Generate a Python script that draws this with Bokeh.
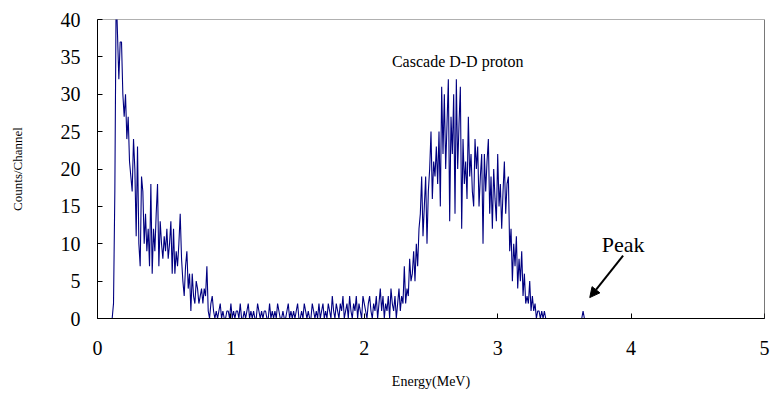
import numpy as np
from bokeh.plotting import figure
from bokeh.models import Label, Arrow, NormalHead, Span, FixedTicker
from bokeh.embed import file_html
from bokeh.resources import INLINE

# Channel width 0.01 MeV; counts
channel_width = 0.01
counts_low = [  # 0.00 .. 0.87
    0, 0, 0, 0, 0, 0, 0, 0, 0, 0, 0, 0,
    2, 17, 44, 38, 32, 37, 37, 30, 27, 30, 24, 27, 21, 19, 17, 24, 20, 11,
    23, 10, 7, 19, 17, 10, 14, 9, 12, 7, 18, 6, 12, 9, 14, 18, 7, 13, 10, 8,
    11, 9, 12, 8, 10, 13, 6, 12, 6, 9, 7, 10, 14, 8, 5, 3, 7, 9, 4, 6,
    1, 6, 3, 2, 5, 4, 2, 3, 4, 2, 4, 3, 7, 1, 0, 2, 3, 1,
]
counts_mid = [  # 0.88 .. 2.27
    0, 1, 0, 1, 2, 0, 1, 0, 0, 1, 1, 0, 2, 0, 1, 0, 1, 1, 0, 2, 0, 0, 1, 0, 1, 2,
    0, 1, 0, 1, 0, 0, 2, 1, 0, 1, 0, 1, 1, 0, 0, 2, 0, 1, 0, 1, 0, 2, 1, 0,
    0, 1, 0, 0, 1, 2, 0, 1, 0, 1, 0, 1, 2, 0, 0, 1, 0, 2, 1, 0, 1, 0, 0, 2,
    1, 0, 1, 0, 2, 0, 1, 2, 0, 1, 0, 2, 1, 0, 3, 1, 0, 2, 1, 0, 2, 1, 3, 0,
    1, 2, 0, 3, 1, 0, 2, 1, 3, 0, 2, 1, 0, 3, 2, 1, 0, 2, 3, 1, 0, 2, 1, 3,
    0, 2, 4, 1, 3, 0, 2, 1, 3, 0, 4, 2, 1, 3, 0, 2, 4, 1, 3, 2,
]
counts_peak = [  # 2.28 .. 3.40
    7, 2, 4, 3, 8, 5, 6, 9, 5, 10, 7, 12, 14, 19, 11, 15, 19, 10, 17, 20,
    25, 16, 21, 19, 23, 18, 25, 15, 31, 22, 30, 20, 26, 32, 13, 27, 22, 30, 14, 32,
    20, 26, 31, 12, 24, 18, 21, 16, 27, 19, 22, 17, 15, 24, 20, 23, 15, 19, 22, 10,
    22, 17, 21, 24, 14, 19, 12, 20, 16, 13, 22, 15, 18, 12, 17, 21, 14, 18, 19, 9,
    12, 5, 10, 7, 11, 4, 8, 5, 9, 3, 6, 2, 3, 2, 5, 1, 3, 1, 2, 0,
    1, 1, 0, 1, 0, 1, 0, 0, 0, 0, 0, 0, 0,
]
counts_tail = [0] * 21 + [1] + [0] * 138  # 3.41 .. 5.00, small peak at 3.62

counts = counts_low + counts_mid + counts_peak + counts_tail
energy = np.round(np.arange(len(counts)) * channel_width, 2)

x_ticks = [0, 1, 2, 3, 4, 5]
y_ticks = [0, 5, 10, 15, 20, 25, 30, 35, 40]

p = figure(width=770, height=394, x_range=(0, 5), y_range=(0, 40),
           output_backend="svg", toolbar_location=None,
           min_border_left=97, min_border_right=6, min_border_top=19, min_border_bottom=76)
p.background_fill_color = "white"
p.border_fill_color = "white"
p.outline_line_color = "#b0b0b0"
p.grid.visible = False

p.line(energy, counts, line_color="#000080", line_width=1.1)

serif = "Liberation Serif"
for ax in (p.xaxis[0], p.yaxis[0]):
    ax.axis_line_color = "black"
    ax.major_tick_line_color = "black"
    ax.major_tick_in = 5
    ax.major_tick_out = 0
    ax.minor_tick_line_color = None
    ax.major_label_text_font = serif
    ax.major_label_text_font_size = "20px"
    ax.major_label_text_color = "black"
    ax.axis_label_text_font = serif
    ax.axis_label_text_font_style = "normal"
    ax.axis_label_text_color = "black"

p.xaxis.ticker = FixedTicker(ticks=x_ticks)
p.yaxis.ticker = FixedTicker(ticks=y_ticks)
p.xaxis.major_label_standoff = 22
p.yaxis.major_label_standoff = 17
p.xaxis.axis_label = "Energy(MeV)"
p.xaxis.axis_label_text_font_size = "14px"
p.xaxis.axis_label_standoff = 16
p.yaxis.axis_label = "Counts/Channel"
p.yaxis.axis_label_text_font_size = "13px"
p.yaxis.axis_label_standoff = 33

p.add_layout(Span(location=5, dimension="height", line_color="#404040", line_width=1))

p.add_layout(Label(x=2.70, y=34.4, text="Cascade D-D proton", text_font=serif,
                   text_font_size="16px", text_align="center", text_baseline="alphabetic",
                   text_color="black"))
p.add_layout(Label(x=3.94, y=9.9, text="Peak", text_font=serif,
                   text_font_size="22px", text_align="center", text_baseline="alphabetic",
                   text_color="black"))
p.add_layout(Arrow(x_start=3.94, y_start=8.4, x_end=3.69, y_end=2.8,
                   line_color="black", line_width=2,
                   end=NormalHead(size=10, fill_color="black", line_color="black")))

open("out.html", "w").write(file_html(p, INLINE))
